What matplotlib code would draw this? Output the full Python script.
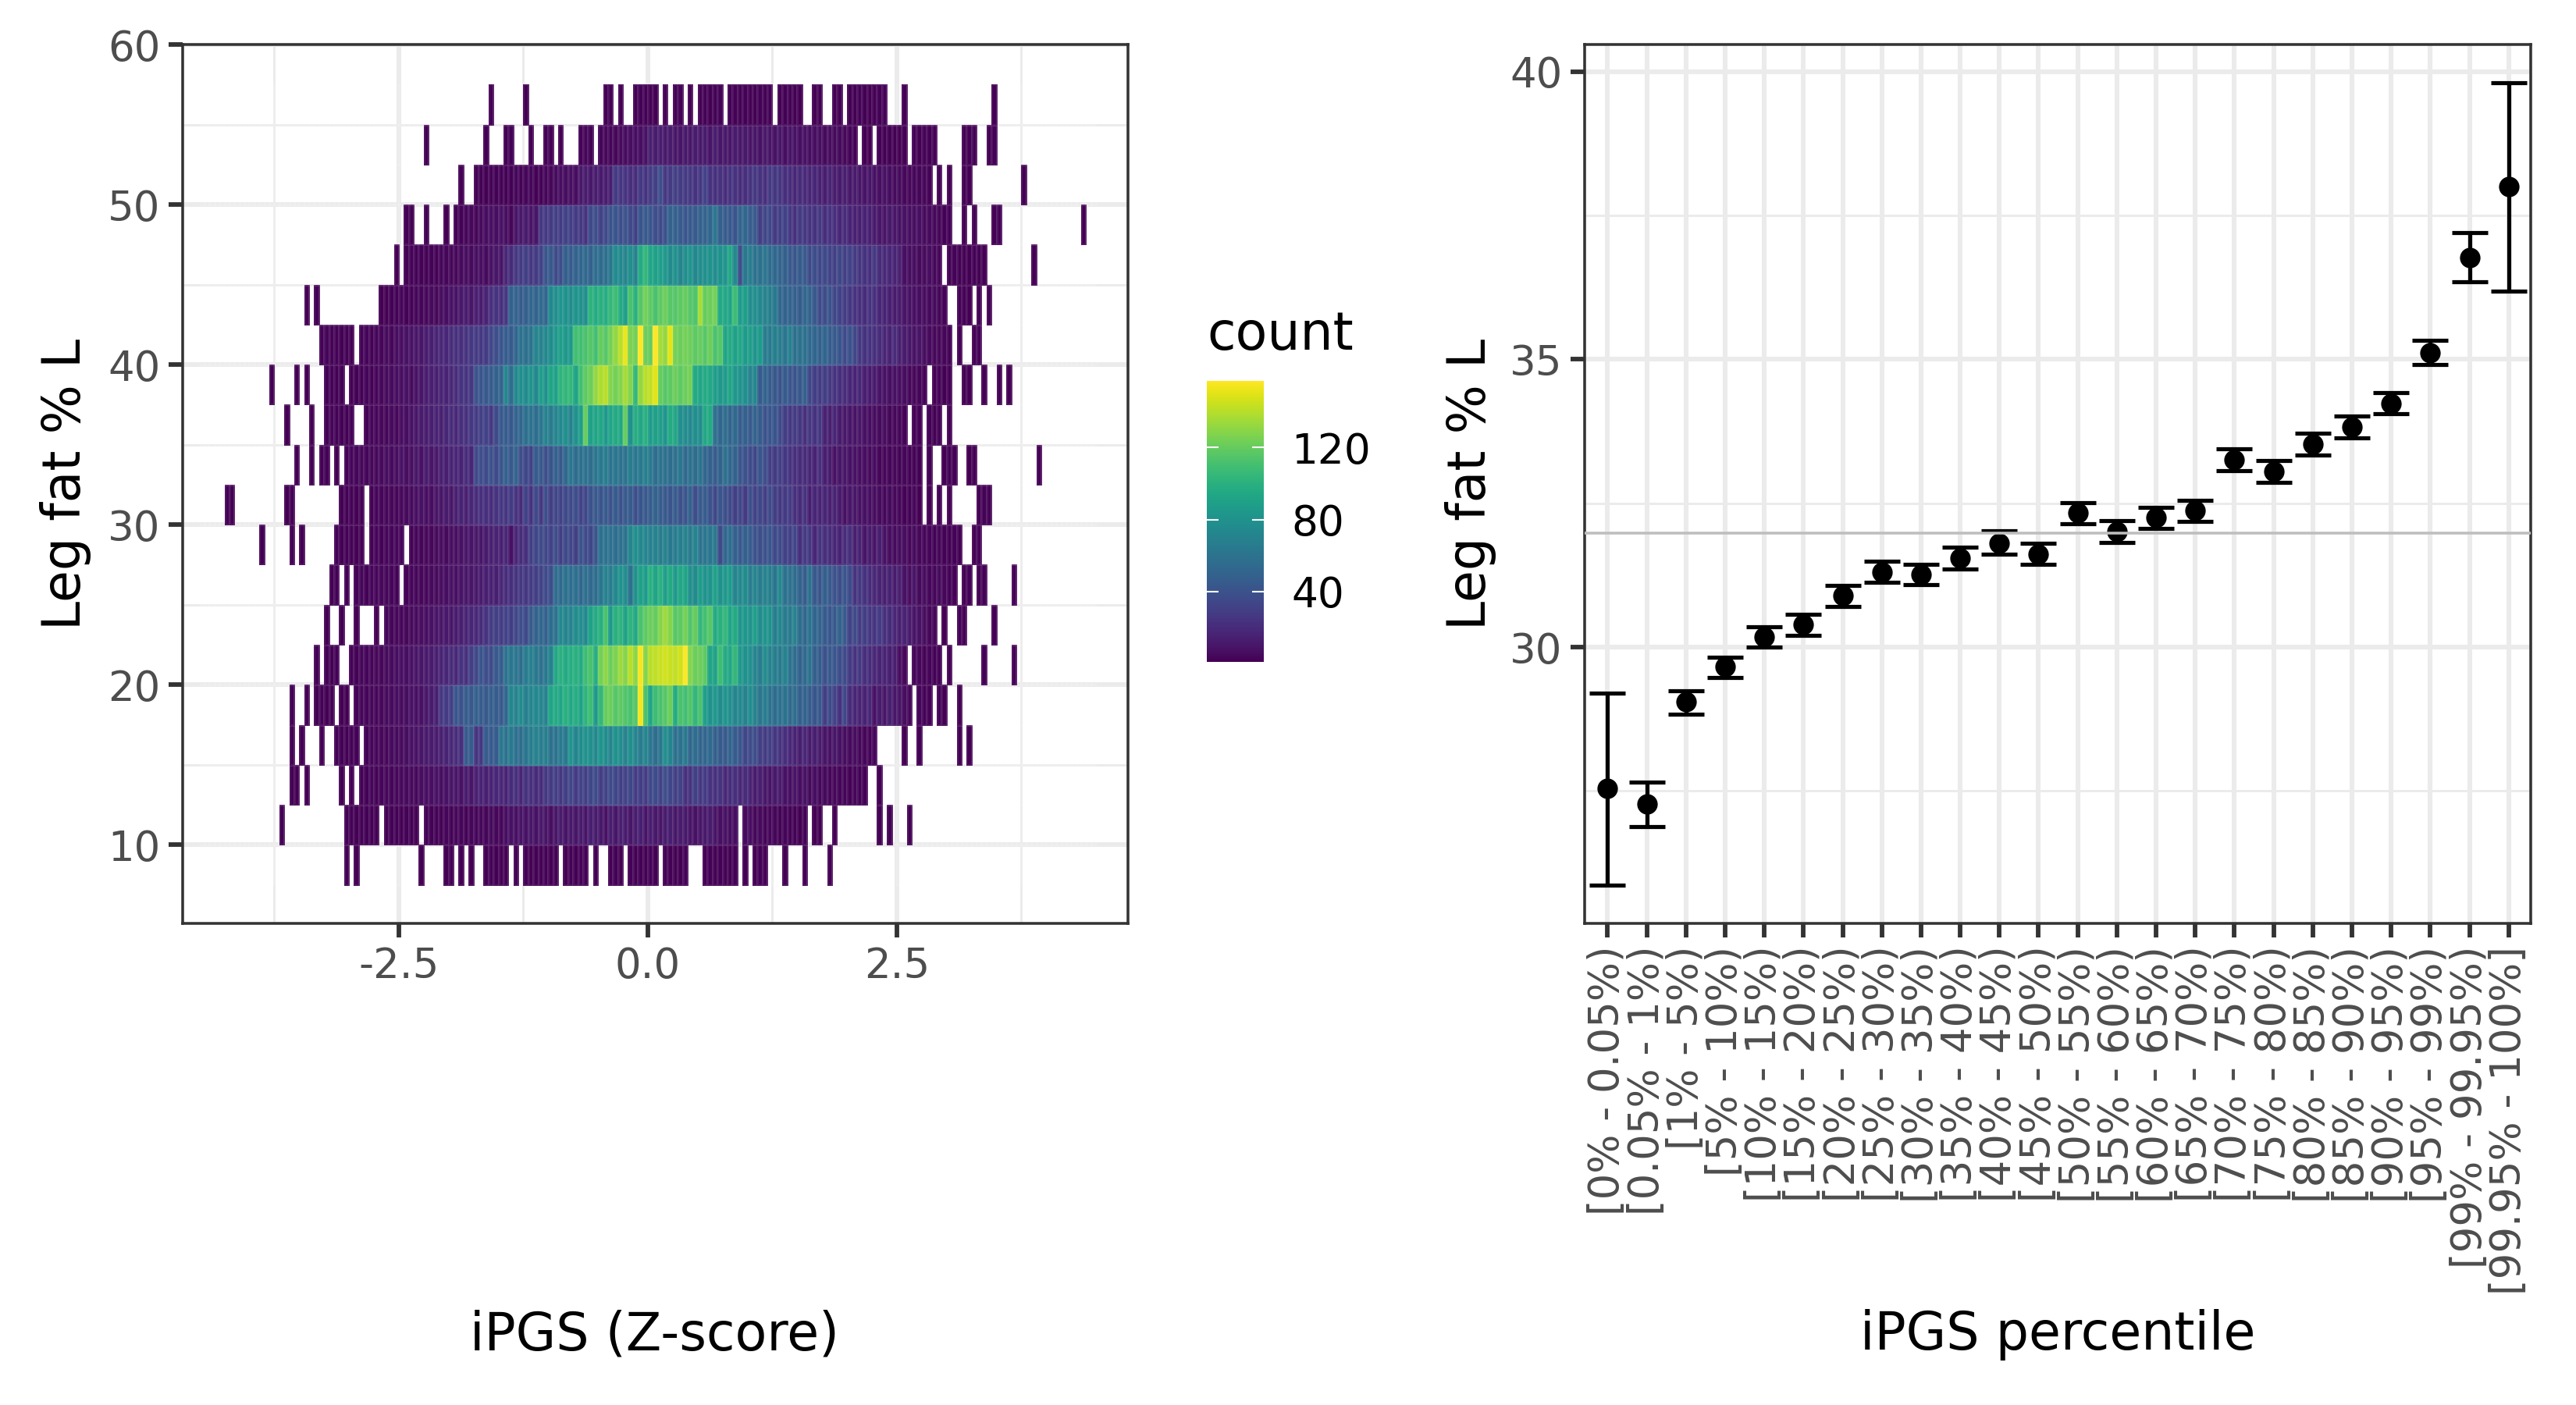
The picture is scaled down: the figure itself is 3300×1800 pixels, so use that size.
import numpy as np
import matplotlib
matplotlib.use('Agg')
import matplotlib.pyplot as plt

# --- left panel: counts per bin, bin index = x / 0.05, {first bin: counts}
row_55 = {-32: [1], -25: [1], -9: [1, 1], -6: [1], -3: [1, 2, 2, 1, 1], 3: [1], 5: [1, 2], 8: [1],
          10: [1, 2, 1, 2, 2], 16: [1, 2, 1, 2, 1, 1, 2, 1, 2], 26: [1, 2, 2, 1, 1], 33: [1, 1],
          37: [1, 1], 40: [1, 1, 2, 1, 1, 1, 2, 2], 51: [1], 69: [1]}
row_52 = {-45: [1], -33: [1], -29: [1, 2], -24: [1], -21: [1, 2], -18: [1], -14: [2, 3, 2],
          -10: [3, 4, 3, 4, 5, 5, 6, 6, 7, 8], 0: [14, 12, 13, 11, 12, 10, 9, 11, 10, 12],
          10: [11, 12, 9, 13, 10, 11, 9, 12, 10, 11], 20: [9, 10, 8, 11, 9, 8, 10, 7, 9, 8],
          30: [7, 8, 6, 7, 6, 5, 6, 5, 5, 4], 40: [3, 2], 43: [1, 1], 46: [2, 1, 2, 1, 1, 1],
          53: [2, 1, 2, 1, 1], 63: [1, 1, 1], 68: [1, 2]}
row_50 = {-38: [1], -35: [1, 2, 1, 2, 2], -30: [2, 1, 2, 3, 2, 3, 3, 2, 2, 3],
          -20: [4, 5, 6, 6, 7, 6, 11, 12, 11, 13], -10: [12, 13, 14, 28, 25, 24, 22, 20, 27, 24],
          0: [28, 30, 38, 26, 28, 30, 28, 27, 26, 24], 10: [26, 32, 24, 22, 23, 21, 24, 23, 20, 22],
          20: [23, 26, 24, 22, 27, 26, 25, 22, 20, 18], 30: [20, 19, 17, 18, 15, 14, 16, 13, 12, 14],
          40: [11, 12, 10, 9, 10, 8, 7, 8, 6, 5], 50: [5, 4, 4, 3, 3, 3, 2], 58: [1], 60: [1],
          63: [1, 1], 75: [1]}
row_47 = {-49: [1, 1], -45: [1], -41: [1], -39: [2, 2, 3, 4, 3, 5, 6, 7, 6, 8],
          -29: [6, 4, 9, 11, 12, 9, 10, 26, 27, 28], -19: [30, 28, 32, 30, 28, 27, 24, 36, 38, 32],
          -9: [36, 40, 42, 38, 40, 36, 30, 42, 44, 42], 1: [38, 36, 40, 50, 48, 46, 42, 44, 45, 48],
          11: [50, 52, 62, 48, 46, 44, 42, 50, 52, 46], 21: [45, 30, 34, 35, 28, 30, 32, 26, 22, 28],
          31: [26, 24, 24, 26, 22, 24, 22, 18, 20, 16], 41: [15, 14, 16, 14, 12, 10, 9, 11, 10, 8],
          51: [8, 7, 6, 7, 5, 5, 4, 3, 2, 2], 63: [1], 65: [1], 69: [1, 2], 87: [1]}
row_45 = {-51: [1], -49: [1, 2, 2, 2, 1, 2, 2, 3, 3, 4], -39: [4, 5, 6, 5, 7, 6, 5, 8, 10, 9],
          -29: [18, 20, 26, 28, 30, 26, 28, 32, 42, 44], -19: [36, 38, 48, 46, 50, 52, 54, 50, 56, 55],
          -9: [58, 62, 76, 74, 72, 78, 70, 96, 104, 92], 1: [90, 88, 84, 76, 80, 72, 78, 82, 74, 76],
          11: [78, 80, 76, 80, 82, 94, 75, 38, 64, 66], 21: [60, 58, 62, 55, 54, 50, 48, 44, 42, 46],
          31: [44, 36, 38, 34, 36, 32, 30, 34, 30, 32], 41: [28, 25, 24, 22, 26, 20, 19, 18, 16, 15],
          51: [7, 6, 6, 5, 5, 6, 4, 3], 60: [1, 2, 1, 1, 1, 2, 1, 1], 77: [1]}
row_42 = {-69: [1], -67: [1], -54: [1, 1, 2, 2, 3, 2, 2, 3, 3, 4], -44: [5, 4, 6, 6, 8, 8, 11, 12, 10, 14],
          -34: [13, 16, 22, 24, 22, 26, 48, 50, 46, 48], -24: [52, 50, 54, 52, 74, 78, 82, 80, 76, 82],
          -14: [80, 78, 102, 96, 100, 98, 104, 108, 96, 88], -4: [112, 100, 116, 124, 118, 112, 118, 122, 116, 115],
          6: [118, 120, 116, 114, 136, 120, 122, 124, 96, 94], 16: [92, 108, 86, 88, 76, 78, 74, 70, 68, 64],
          26: [52, 50, 50, 48, 46, 52, 50, 44, 36, 38], 36: [40, 34, 32, 28, 26, 24, 22, 20, 24, 22],
          46: [18, 16, 15, 12, 12, 9, 8, 7, 6, 6], 56: [5, 5, 3, 2], 62: [2, 1, 1], 66: [1], 68: [1]}
row_40 = {-66: [2, 3, 2, 2, 1, 2, 1], -58: [2, 3, 2, 3, 3, 5, 4, 6, 6, 8], -48: [8, 10, 10, 12, 14, 16, 18, 18, 20, 22],
          -38: [22, 24, 26, 28, 26, 28, 34, 38, 42, 46], -28: [46, 52, 60, 58, 60, 72, 70, 74, 76, 84],
          -18: [88, 84, 84, 110, 110, 112, 116, 110, 120, 116],
          -8: [124, 132, 140, 152, 126, 124, 157, 122, 120, 157],
          2: [136, 132, 150, 124, 122, 124, 122, 118, 120, 116], 12: [122, 112, 116, 92, 96, 90, 94, 86, 88, 82],
          22: [86, 66, 64, 68, 66, 62, 68, 58, 60, 58], 32: [54, 52, 48, 52, 46, 44, 42, 36, 40, 34],
          42: [26, 24, 24, 22, 20, 18, 16, 20, 14, 12], 52: [10, 8, 9, 6, 5, 4, 4, 3, 2], 62: [1], 65: [1, 2]}
row_37 = {-76: [1], -71: [1], -69: [1], -65: [2, 2, 1, 2], -60: [1, 2, 2, 3, 2, 3, 4, 5, 5, 6],
          -50: [6, 8, 5, 8, 10, 12, 14, 14, 16, 16], -40: [18, 20, 24, 24, 26, 40, 42, 44, 46, 48],
          -30: [50, 72, 56, 74, 78, 76, 82, 74, 88, 80], -20: [92, 90, 102, 104, 104, 92, 110, 118, 122, 132],
          -10: [138, 140, 128, 124, 128, 136, 128, 104, 132, 140], 0: [142, 150, 120, 116, 118, 122, 118, 122, 124, 96],
          10: [92, 96, 94, 88, 84, 86, 92, 84, 80, 78], 20: [70, 74, 46, 50, 46, 44, 40, 46, 42, 40],
          30: [44, 48, 34, 30, 28, 30, 26, 24, 22, 20], 40: [18, 16, 18, 14, 12, 12, 9, 8, 7, 8],
          50: [6, 6, 4, 4, 3, 2], 57: [1, 2, 1], 60: [1], 63: [1, 1], 67: [1], 70: [1], 72: [1]}
row_35 = {-73: [1], -68: [1], -65: [2, 3, 2, 2, 1, 2], -57: [2, 3, 3, 4, 3, 5, 4, 6, 6, 8],
          -47: [10, 12, 12, 14, 16, 14, 18, 20, 18, 22], -37: [22, 26, 28, 30, 32, 26, 36, 44, 46, 44],
          -27: [50, 52, 58, 60, 56, 62, 70, 66, 72, 74], -17: [78, 70, 80, 88, 120, 90, 92, 94, 84, 92],
          -7: [96, 94, 120, 80, 98, 94, 100, 86, 90, 88], 3: [82, 96, 94, 78, 76, 74, 78, 76, 94, 96],
          13: [58, 52, 56, 50, 54, 46, 48, 44, 50, 46], 23: [40, 42, 42, 36, 30, 26, 28, 26, 22, 26],
          33: [24, 26, 16, 14, 18, 12, 11, 10, 9, 10], 43: [8, 6, 6, 5, 6, 4, 4, 3, 2],
          53: [1, 2], 56: [2, 1, 2], 60: [1]}
row_32 = {-71: [1], -68: [1], -66: [1, 2], -63: [1], -61: [2, 3, 3, 4, 3, 4, 4, 5, 6, 5],
          -51: [6, 8, 6, 7, 10, 8, 12, 10, 11, 14], -41: [14, 16, 18, 16, 20, 18, 36, 38, 36, 40],
          -31: [36, 42, 48, 44, 50, 38, 34, 32, 46, 44], -21: [38, 42, 48, 44, 54, 62, 56, 58, 60, 56],
          -11: [62, 64, 66, 60, 62, 58, 60, 66, 62, 64], -1: [68, 64, 56, 60, 58, 56, 58, 62, 54, 58],
          9: [56, 60, 52, 48, 46, 50, 58, 52, 50, 42], 19: [40, 36, 34, 42, 38, 30, 28, 30, 26, 24],
          29: [22, 20, 20, 18, 16, 22, 14, 12, 8, 10], 39: [10, 8, 8, 6, 7, 5, 6, 3, 4, 3],
          49: [4, 2, 3, 2, 2, 1], 56: [1], 59: [1, 2, 1], 64: [1, 1], 78: [1]}
row_30 = {-85: [1, 1], -73: [1, 1], -62: [1, 2, 2, 1, 2], -56: [2, 3, 3, 3, 4, 3, 4, 5, 5, 7],
          -46: [8, 6, 6, 10, 9, 12, 10, 14, 16, 14], -36: [18, 20, 22, 22, 20, 24, 26, 25, 28, 24],
          -26: [20, 32, 24, 36, 26, 38, 30, 34, 32, 36], -16: [36, 38, 32, 34, 40, 44, 42, 44, 40, 46],
          -6: [40, 44, 46, 38, 42, 44, 46, 50, 46, 44], 4: [42, 46, 40, 42, 48, 38, 44, 46, 40, 34],
          14: [42, 38, 36, 30, 34, 28, 38, 32, 34, 30], 24: [36, 30, 26, 28, 28, 22, 20, 24, 14, 18],
          34: [16, 18, 14, 16, 12, 8, 10, 10, 8, 8], 44: [7, 6, 5, 4, 5, 4, 3, 2, 2, 3, 1],
          56: [1], 58: [1], 60: [1], 66: [1, 2, 1]}
row_27 = {-78: [1], -72: [1], -70: [1], -63: [2, 1, 2, 2, 1, 2], -56: [2, 3, 2, 3, 3, 4, 3],
          -48: [2, 3, 3, 4, 4, 5, 6, 5, 7, 7], -38: [8, 10, 9, 11, 10, 12, 14, 16, 14, 18],
          -28: [8, 18, 20, 22, 30, 34, 36, 34, 32, 38], -18: [30, 36, 34, 30, 40, 36, 34, 42, 58, 60],
          -8: [58, 56, 58, 60, 72, 78, 74, 72, 68, 70], 2: [66, 70, 64, 66, 68, 70, 64, 72, 60, 62],
          12: [62, 64, 36, 52, 56, 48, 44, 48, 46, 40], 22: [38, 40, 42, 36, 36, 32, 30, 34, 22, 28],
          32: [26, 18, 24, 22, 20, 18, 16, 20, 22, 14], 42: [16, 10, 12, 9, 14, 8, 7, 5, 6, 6],
          52: [4, 5, 4, 3, 3, 2, 3, 2, 1, 2, 1], 65: [1, 2]}
row_25 = {-64: [1, 2], -61: [1], -59: [2, 3, 2, 3, 3, 4, 3, 3, 2], -49: [2, 3, 3, 4, 4, 5, 5, 6, 6, 8],
          -39: [7, 9, 10, 10, 11, 12, 14, 15, 14, 18], -29: [20, 22, 24, 26, 26, 28, 30, 32, 36, 38],
          -19: [56, 54, 60, 56, 58, 52, 58, 54, 56, 62], -9: [70, 66, 74, 80, 76, 60, 80, 90, 86, 100],
          1: [92, 100, 88, 96, 84, 94, 92, 78, 76, 86], 11: [80, 82, 90, 80, 84, 86, 72, 74, 76, 66],
          21: [72, 66, 70, 68, 62, 74, 60, 58, 56, 50], 31: [46, 60, 44, 42, 48, 44, 40, 38, 42, 36],
          41: [24, 26, 24, 20, 18, 16, 14, 16, 12, 14], 51: [8, 6, 9, 5, 6, 4, 3, 5, 4, 2, 2],
          63: [1, 2], 66: [1, 2], 73: [1]}
row_22 = {-65: [1], -62: [1], -59: [1], -55: [1], -53: [3, 3, 4, 3, 4, 5, 5, 7, 6, 8],
          -43: [9, 10, 11, 10, 12, 14, 16, 18, 18, 20], -33: [24, 28, 30, 28, 32, 30, 34, 38, 36, 44],
          -23: [50, 52, 48, 56, 60, 74, 72, 70, 76, 78], -13: [74, 90, 96, 100, 112, 84, 100, 102, 90, 102],
          -3: [94, 112, 118, 122, 120, 128, 134, 128, 116, 118], 7: [124, 114, 120, 104, 110, 116, 96, 100, 104, 92],
          17: [96, 82, 84, 80, 88, 76, 82, 80, 68, 72], 27: [66, 64, 70, 56, 52, 60, 52, 50, 46, 42],
          37: [44, 50, 44, 32, 36, 28, 30, 26, 24, 28], 47: [22, 20, 18, 14, 16, 12, 9, 8, 6, 4, 3],
          59: [1], 62: [2, 1], 69: [1]}
row_20 = {-67: [1], -65: [2, 1, 2], -60: [2, 2, 3, 3, 3, 4, 4, 5, 5, 6], -50: [7, 6, 8, 9, 10, 11, 12, 14, 16, 18],
          -40: [20, 18, 24, 22, 30, 34, 42, 38, 36, 44], -30: [46, 60, 62, 62, 56, 66, 68, 64, 58, 64],
          -20: [70, 94, 100, 96, 98, 100, 96, 108, 112, 98], -10: [124, 130, 122, 126, 134, 128, 140, 130, 155, 128],
          0: [140, 142, 144, 146, 144, 142, 146, 156, 128, 122], 10: [122, 118, 92, 90, 108, 96, 94, 104, 84, 80],
          20: [78, 72, 66, 76, 70, 68, 64, 70, 60, 56], 30: [50, 54, 60, 48, 46, 40, 44, 42, 38, 36],
          40: [28, 24, 26, 22, 20, 18, 16, 16, 14, 14], 50: [6, 4], 53: [3, 4, 2, 3, 2, 2], 60: [1], 67: [1], 73: [1]}
row_17 = {-72: [1], -69: [1], -67: [1, 2, 1, 2], -62: [1, 1], -59: [2, 3, 3, 4, 3, 4, 5, 5, 6, 5],
          -49: [6, 8, 7, 8, 10, 12, 14, 26, 28, 30], -39: [42, 40, 46, 44, 48, 46, 44, 48, 46, 44],
          -29: [52, 72, 70, 76, 68, 72, 74, 72, 70, 92], -19: [96, 92, 100, 94, 98, 90, 102, 108, 84, 104],
          -9: [120, 122, 116, 118, 114, 112, 116, 154, 112, 92], 1: [108, 112, 116, 122, 96, 112, 110, 114, 104, 112],
          11: [88, 80, 84, 76, 82, 78, 72, 74, 70, 76], 21: [70, 62, 66, 60, 56, 58, 60, 54, 56, 48],
          31: [50, 46, 42, 44, 30, 36, 32, 24, 34, 20], 41: [18, 16, 16, 18, 8, 12, 10, 14, 10, 9],
          51: [6, 4], 54: [3, 2, 2], 58: [2, 1], 62: [1]}
row_15 = {-72: [1], -70: [1], -66: [1], -63: [2, 2, 1, 2, 2], -57: [2, 3, 3, 4, 4, 5, 5, 5, 6, 8],
          -47: [8, 10, 11, 12, 12, 14, 16, 18, 20, 22], -37: [44, 46, 24, 26, 46, 44, 46, 62, 60, 64],
          -27: [58, 56, 62, 66, 70, 66, 68, 60, 60, 64], -17: [64, 82, 72, 76, 80, 78, 74, 82, 76, 72],
          -7: [80, 76, 70, 78, 72, 66, 72, 62, 56, 62], 3: [78, 72, 58, 60, 64, 52, 56, 50, 52, 54],
          13: [48, 46, 44, 50, 46, 42, 34, 36, 38, 30], 23: [28, 30, 26, 24, 22, 18, 16, 14, 18, 12],
          33: [14, 12, 10, 8, 10, 8, 6, 5, 6, 4], 43: [4, 3, 3], 51: [1], 54: [1], 62: [1], 64: [1]}
row_12 = {-72: [1, 1], -69: [1], -62: [1], -60: [1], -58: [2, 2, 3, 2, 3, 4, 3, 4, 4, 5],
          -48: [5, 4, 6, 6, 7, 8, 6, 8, 9, 10], -38: [8, 12, 10, 14, 16, 14, 16, 18, 18, 16],
          -28: [20, 22, 18, 24, 22, 20, 20, 26, 28, 30], -18: [26, 30, 34, 28, 32, 30, 34, 36, 30, 32],
          -8: [36, 34, 30, 32, 34, 28, 30, 28, 34, 36], 2: [32, 38, 34, 30, 32, 22, 24, 30, 26, 28],
          12: [24, 22, 24, 18, 20, 22, 18, 20, 16, 12], 22: [14, 10, 9, 11, 12, 8, 7, 9, 6, 8],
          32: [5, 7, 4, 5, 3, 4, 3, 3, 2, 3], 42: [2, 2], 46: [1]}
row_10 = {-74: [1], -61: [1, 2, 1, 2, 2, 1, 1], -53: [1, 2, 2, 1, 2, 1, 1], -45: [1, 2, 2, 1, 3, 2, 4, 3, 2, 3],
          -35: [3, 4, 3, 5, 4, 3, 6, 8, 7, 9], -25: [8, 10, 8, 11, 9, 7, 10, 12, 9, 11],
          -15: [10, 12, 9, 14, 12, 11, 8, 13, 10, 14], -5: [12, 10, 13, 15, 9, 13, 11, 10, 12, 14],
          5: [10, 12, 11, 9, 8, 10, 11, 12, 9, 7], 15: [8, 6, 7], 19: [5, 6, 4, 5, 3, 4, 3, 2, 3, 2, 2, 1, 2],
          33: [1, 1], 37: [1], 46: [1], 48: [1], 52: [1]}
row_7 = {-61: [1], -59: [1], -46: [1], -41: [1, 1], -38: [1], -36: [1], -33: [1, 2, 1, 1, 1], -27: [1],
         -25: [2, 1, 2, 1, 2, 1, 1], -17: [1, 2, 1, 2, 1], -11: [1], -8: [1, 2, 1], -4: [2, 1, 2, 1, 2, 1],
         3: [1, 2, 1, 1, 2], 11: [1, 2, 1, 2, 1, 1, 2], 19: [1], 21: [1, 2, 1], 27: [1], 31: [1], 36: [1]}
# bottom row first
all_rows = [row_7, row_10, row_12, row_15, row_17, row_20, row_22, row_25, row_27, row_30,
            row_32, row_35, row_37, row_40, row_42, row_45, row_47, row_50, row_52, row_55]

# --- right panel
percentile_labels = ['[0% - 0.05%)', '[0.05% - 1%)', '[1% - 5%)', '[5% - 10%)', '[10% - 15%)', '[15% - 20%)',
                     '[20% - 25%)', '[25% - 30%)', '[30% - 35%)', '[35% - 40%)', '[40% - 45%)', '[45% - 50%)',
                     '[50% - 55%)', '[55% - 60%)', '[60% - 65%)', '[65% - 70%)', '[70% - 75%)', '[75% - 80%)',
                     '[80% - 85%)', '[85% - 90%)', '[90% - 95%)', '[95% - 99%)', '[99% - 99.95%)', '[99.95% - 100%]']
means = [27.54, 27.27, 29.05, 29.66, 30.18, 30.39, 30.89, 31.30, 31.26, 31.55, 31.81, 31.62,
         32.33, 32.01, 32.25, 32.37, 33.25, 33.05, 33.53, 33.83, 34.23, 35.12, 36.77, 38.0]
upper = [29.2, 27.66, 29.24, 29.83, 30.36, 30.57, 31.07, 31.49, 31.44, 31.73, 32.02, 31.81,
         32.51, 32.2, 32.43, 32.55, 33.44, 33.24, 33.72, 34.02, 34.42, 35.33, 37.2, 39.8]
lower = [25.86, 26.88, 28.84, 29.47, 30.0, 30.2, 30.7, 31.12, 31.08, 31.36, 31.62, 31.44,
         32.14, 31.82, 32.06, 32.19, 33.07, 32.86, 33.34, 33.64, 34.05, 34.91, 36.35, 36.19]
overall_mean = 31.98

W, H = 3300, 1800
tick_col = '#4D4D4D'
line_col = '#333333'
grid_col = '#EBEBEB'


def px_axes(fig, left, top, right, bottom):
    return fig.add_axes([left / W, 1 - bottom / H, (right - left) / W, (bottom - top) / H])


def style(ax):
    ax.set_axisbelow(True)
    ax.grid(which='major', color=grid_col, lw=1.45)
    ax.grid(which='minor', color=grid_col, lw=0.72)
    ax.tick_params(which='major', length=4.4, width=1.4, color=line_col, labelcolor=tick_col,
                   labelsize=12.7, pad=2.5)
    ax.tick_params(which='minor', length=0)
    for s in ax.spines.values():
        s.set_color(line_col)
        s.set_linewidth(0.85)


fig = plt.figure(figsize=(11, 6), dpi=300)

# left panel
ax = px_axes(fig, 234, 57, 1445, 1183)
grid = np.zeros((20, 180))
for r, row in enumerate(all_rows):
    for start, vals in row.items():
        grid[r, start + 90:start + 90 + len(vals)] = vals
x_edges = np.arange(-90, 91) * 0.05
y_edges = np.arange(7.5, 58, 2.5)
mesh = ax.pcolormesh(x_edges, y_edges, np.ma.masked_equal(grid, 0), cmap='viridis', vmin=1, vmax=157,
                     edgecolors=(1, 1, 1, 0.08), linewidth=0.25)
ax.set_xlim(-4.67, 4.82)
ax.set_ylim(5.09, 59.95)
ax.set_xticks([-2.5, 0, 2.5])
ax.set_xticklabels(['-2.5', '0.0', '2.5'])
ax.set_xticks([-3.75, -1.25, 1.25, 3.75], minor=True)
ax.set_yticks([10, 20, 30, 40, 50, 60])
ax.set_yticks([15, 25, 35, 45, 55], minor=True)
style(ax)

# colour legend
cax = px_axes(fig, 1546, 488, 1619, 848)
cb = fig.colorbar(mesh, cax=cax)
cb.outline.set_visible(False)
cb.set_ticks([40, 80, 120])
cax.tick_params(length=0, labelsize=12.8, labelcolor='black', pad=8.4)
cax.hlines([40, 80, 120], 0, 0.2, color='white', lw=0.5)
cax.hlines([40, 80, 120], 0.8, 1, color='white', lw=0.5)
fig.text(1546 / W, 1 - 448 / H, 'count', fontsize=16, ha='left', va='baseline')

# right panel
ax2 = px_axes(fig, 2030, 57, 3242, 1183)
xs = np.arange(1, 25)
means = np.array(means)
upper = np.array(upper)
lower = np.array(lower)
ax2.errorbar(xs, means, yerr=[means - lower, upper - means], fmt='o', color='black', ms=5.3,
             elinewidth=1.25, capsize=5.5, capthick=1.25, zorder=3)
ax2.axhline(overall_mean, color='#BEBEBE', lw=0.85, zorder=4)
ax2.set_xlim(0.414, 24.564)
ax2.set_ylim(25.2, 40.47)
ax2.set_xticks(xs)
ax2.set_xticklabels(percentile_labels, rotation=90, ha='center', va='top')
ax2.set_yticks([30, 35, 40])
ax2.set_yticks([27.5, 32.5, 37.5], minor=True)
style(ax2)

# axis titles
fig.text(838 / W, 1 - 1710 / H, 'iPGS (Z-score)', fontsize=16, ha='center', va='center')
fig.text(2636 / W, 1 - 1710 / H, 'iPGS percentile', fontsize=16, ha='center', va='center')
fig.text(84 / W, 1 - 620 / H, 'Leg fat % L', fontsize=16, rotation=90, ha='center', va='center')
fig.text(1884 / W, 1 - 620 / H, 'Leg fat % L', fontsize=16, rotation=90, ha='center', va='center')

fig.savefig('out.png', dpi=300)
